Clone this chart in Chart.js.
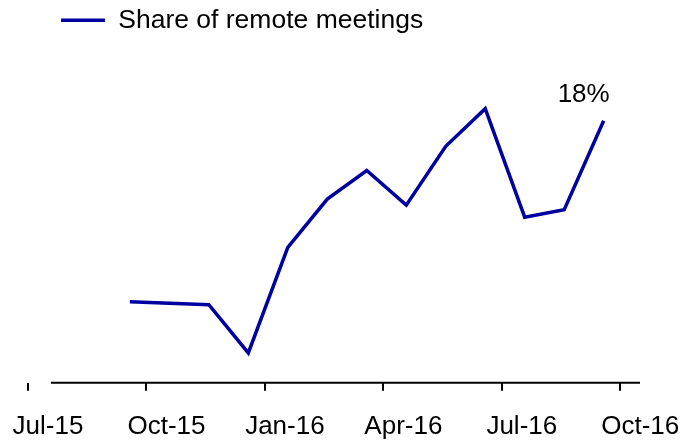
<!DOCTYPE html>
<html>
<head>
<meta charset="utf-8">
<script src="https://cdn.jsdelivr.net/npm/chart.js@4"></script>
<style>
    html, body { margin: 0; padding: 0; background: #fff; }
    #wrap { width: 686px; height: 442px; }
</style>
</head>
<body>
<div id="wrap"><canvas id="chart"></canvas></div>
<script>
// monthly share of remote meetings, in %
const months = ['Sep-15', 'Oct-15', 'Nov-15', 'Dec-15', 'Jan-16', 'Feb-16', 'Mar-16',
    'Apr-16', 'May-16', 'Jun-16', 'Jul-16', 'Aug-16', 'Sep-16'];
const remoteShare = [12.0, 11.95, 11.9, 10.3, 13.8, 15.4, 16.35, 15.2, 17.15, 18.4, 14.8, 15.05, 18.0];
const lastLabel = '18%';

// x axis tick marks (months since Jul-15)
const tickLabels = ['Jul-15', 'Oct-15', 'Jan-16', 'Apr-16', 'Jul-16', 'Oct-16'];
const tickMonths = [0, 3, 6, 9, 12, 15];

const monthNames = ['Jan', 'Feb', 'Mar', 'Apr', 'May', 'Jun', 'Jul', 'Aug', 'Sep', 'Oct', 'Nov', 'Dec'];
const monthIndex = (label) => {
    const [mon, yy] = label.split('-');
    return (Number(yy) - 15) * 12 + monthNames.indexOf(mon) - 6;
}
const MID = 0.58; // points sit mid-month

const font = "'Liberation Sans', Arial, sans-serif";
const blue = '#0000a0';

// shift the legend to the right, like the original
const legendShift = {
    id: 'legendShift',
    afterLayout(chart) {
        chart.legend.left += 54;
        chart.legend.right += 54;
    }
};

// axis line starting at the first mid-month position
const axisLine = {
    id: 'axisLine',
    beforeDatasetsDraw(chart) {
        const x = chart.scales.x;
        const ctx = chart.ctx;
        ctx.save();
        ctx.strokeStyle = '#000';
        ctx.lineWidth = 2;
        ctx.beginPath();
        ctx.moveTo(x.getPixelForValue(MID), x.top);
        ctx.lineTo(x.right, x.top);
        ctx.stroke();
        ctx.restore();
    }
};

const endLabel = {
    id: 'endLabel',
    afterDatasetsDraw(chart) {
        const meta = chart.getDatasetMeta(0);
        const pt = meta.data[meta.data.length - 1];
        const ctx = chart.ctx;
        ctx.save();
        ctx.font = `26px ${font}`;
        ctx.fillStyle = '#000';
        ctx.textAlign = 'center';
        ctx.textBaseline = 'alphabetic';
        ctx.fillText(lastLabel, pt.x - 20, pt.y - 19);
        ctx.restore();
    }
};

const ctx = document.getElementById('chart').getContext('2d');

new Chart(ctx, {
    type: 'line',
    data: {
        datasets: [{
            label: 'Share of remote meetings',
            data: months.map((m, i) => ({ x: monthIndex(m) + MID, y: remoteShare[i] })),
            borderColor: blue,
            backgroundColor: blue,
            borderWidth: 3.5,
            pointRadius: 0,
            tension: 0,
        }],
    },
    options: {
        responsive: true,
        maintainAspectRatio: false,
        animation: false,
        layout: {
            padding: { left: 0, right: 46, top: 0, bottom: 0 }
        },
        plugins: {
            legend: {
                display: true,
                position: 'top',
                align: 'start',
                labels: {
                    boxWidth: 44,
                    boxHeight: 0,
                    padding: 7,
                    color: '#000',
                    font: { family: font, size: 26.5 }
                }
            },
            tooltip: { enabled: false },
        },
        scales: {
            x: {
                type: 'linear',
                min: -0.709,
                max: 15.5,
                afterBuildTicks: (axis) => {
                    axis.ticks = tickMonths.map(v => ({ value: v }));
                },
                afterFit: (axis) => {
                    axis.paddingLeft = 0;
                    axis.paddingRight = 0;
                    // labels hang below the axis, no extra room under them
                    axis.height -= axis.options.ticks.padding;
                },
                border: { display: false },
                grid: {
                    display: true,
                    drawOnChartArea: false,
                    drawTicks: true,
                    tickLength: 8,
                    color: '#000',
                    lineWidth: 2,
                },
                ticks: {
                    autoSkip: false,
                    maxRotation: 0,
                    padding: 20,
                    labelOffset: 20,
                    color: '#000',
                    font: { family: font, size: 26 },
                    callback: (value, index) => tickLabels[index],
                }
            },
            y: {
                display: false,
                min: 9.31,
                max: 20.56,
            }
        }
    },
    plugins: [legendShift, axisLine, endLabel],
});
</script>
</body>
</html>
